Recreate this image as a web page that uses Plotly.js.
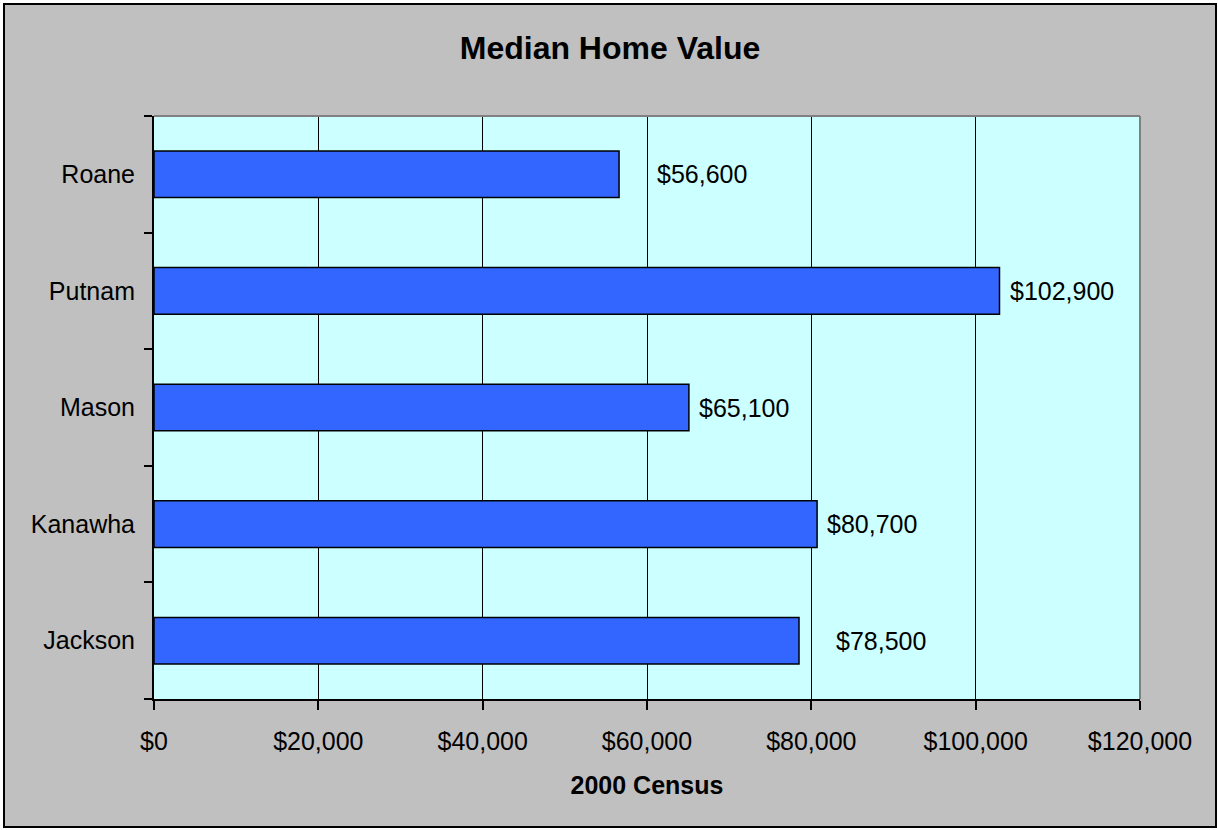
<!DOCTYPE html>
<html>
<head>
<meta charset="utf-8">
<script src="https://cdn.plot.ly/plotly-3.0.1.min.js"></script>
<style>
  html, body { margin: 0; padding: 0; background: #ffffff; }
  #frame { position: absolute; left: 3px; top: 3px; width: 1214px; height: 825px;
           border: 2px solid #000; box-sizing: border-box; background: #c0c0c0; }
  #chart { width: 1210px; height: 821px; }
</style>
</head>
<body>
<div id="frame"><div id="chart"></div></div>
<script>
// ---- data ----
const counties = ['Jackson', 'Kanawha', 'Mason', 'Putnam', 'Roane'];
const medianValues = [78500, 80700, 65100, 102900, 56600];
const xTickValues = [0, 20000, 40000, 60000, 80000, 100000, 120000];
const xTickLabels = ['$0', '$20,000', '$40,000', '$60,000', '$80,000', '$100,000', '$120,000'];

// ---- styling ----
const FONT = 'Liberation Sans, Arial, sans-serif';
const labelShift = {Jackson: 35, Kanawha: 8, Mason: 8, Putnam: 8, Roane: 36};

function money(v) { return '$' + v.toLocaleString('en-US'); }

const trace = {
  type: 'bar',
  orientation: 'h',
  y: counties,
  x: medianValues,
  marker: { color: '#3366ff', line: { color: '#000000', width: 1.5 } },
  hoverinfo: 'x+y'
};

const annotations = counties.map((c, i) => ({
  x: medianValues[i], y: c, xref: 'x', yref: 'y',
  text: money(medianValues[i]),
  showarrow: false, xanchor: 'left', yanchor: 'middle',
  xshift: labelShift[c],
  font: { family: FONT, size: 25, color: '#000' }
}));

const layout = {
  width: 1210, height: 821,
  paper_bgcolor: '#c0c0c0',
  plot_bgcolor: '#ccffff',
  margin: { l: 149, r: 75, t: 111, b: 127 },
  showlegend: false,
  bargap: 0.6,
  title: {
    text: '<b>Median Home Value</b>',
    font: { family: FONT, size: 32, color: '#000' },
    x: 0.5, xanchor: 'center', y: 0.948, yanchor: 'middle', yref: 'container'
  },
  xaxis: {
    range: [0, 120000],
    tickvals: xTickValues, ticktext: xTickLabels,
    showgrid: true, gridcolor: '#000000', gridwidth: 1,
    zeroline: false,
    showline: true, linecolor: '#000000', linewidth: 2,
    ticks: 'outside', ticklen: 9, tickwidth: 2, tickcolor: '#000',
    tickfont: { family: FONT, size: 25, color: '#000' },
    ticklabelstandoff: 10,
    title: { text: '<b>2000 Census</b>', font: { family: FONT, size: 25, color: '#000' }, standoff: 22 },
    fixedrange: true
  },
  yaxis: {
    type: 'category',
    categoryorder: 'array', categoryarray: counties,
    showgrid: false, zeroline: false,
    showline: true, linecolor: '#000000', linewidth: 2,
    ticks: 'outside', tickson: 'boundaries', ticklen: 8, tickwidth: 2, tickcolor: '#000',
    tickfont: { family: FONT, size: 25, color: '#000' },
    ticklabelstandoff: 12,
    fixedrange: true
  },
  shapes: [
    { type: 'line', xref: 'paper', yref: 'paper', x0: 0, x1: 1, y0: 1, y1: 1,
      line: { color: '#808080', width: 2 }, layer: 'above' },
    { type: 'line', xref: 'paper', yref: 'paper', x0: 1, x1: 1, y0: 0, y1: 1,
      line: { color: '#808080', width: 2 }, layer: 'above' }
  ],
  annotations: annotations
};

Plotly.newPlot('chart', [trace], layout, { displayModeBar: false, staticPlot: true });
</script>
</body>
</html>
